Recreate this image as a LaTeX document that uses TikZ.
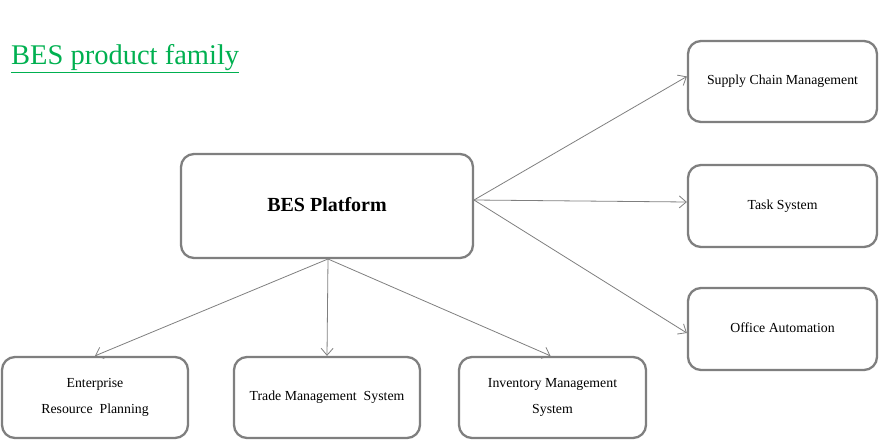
\documentclass[tikz,border=0pt]{standalone}
\usepackage{fontspec}
\setmainfont{Liberation Serif}
\usetikzlibrary{arrows.meta,calc}
\definecolor{boxgray}{HTML}{7F7F7F}
\definecolor{titlegreen}{HTML}{00B050}
\begin{document}
\begin{tikzpicture}[x=1pt,y=-1pt,
  box/.style={draw=boxgray,line width=2.3pt,rounded corners=13pt,fill=white,
    align=center,inner sep=0pt,font=\fontsize{13.8}{26}\selectfont},
  conn/.style={draw=boxgray,line width=0.8pt,
    -{Straight Barb[length=7pt,width=12pt,line width=0.8pt]}}]
\useasboundingbox (0,0) rectangle (883,444);
\node[anchor=base west,text=titlegreen,inner sep=0pt,font=\fontsize{28.5}{30}\selectfont] (title) at (11,65) {\underline{BES product family}};
\node[box,minimum width=292pt,minimum height=104pt,font=\fontsize{20}{24}\selectfont\bfseries] (bes) at (327,206) {\raisebox{3pt}{BES Platform}};
\node[box,minimum width=189pt,minimum height=81pt] (scm) at (782.5,81.5) {\raisebox{3.5pt}{Supply Chain\ Management}};
\node[box,minimum width=189pt,minimum height=82pt] (task) at (782.5,206) {\raisebox{3.5pt}{Task System}};
\node[box,minimum width=189pt,minimum height=82pt] (oa) at (782.5,329) {\raisebox{3.5pt}{Office Automation}};
\node[box,minimum width=186pt,minimum height=81pt] (erp) at (95,397.5) {Enterprise\\Resource\ \ Planning};
\node[box,minimum width=186pt,minimum height=81pt] (tms) at (327,397.5) {Trade Management\ \ System};
\node[box,minimum width=187pt,minimum height=81pt] (ims) at (552.5,397.5) {Inventory Management\\System};
\coordinate (r) at (474,200);
\coordinate (b) at (328,259);
\draw[conn] (b) -- (erp.north);
\draw[conn] (b) -- (tms.north);
\draw[conn] (b) -- ([xshift=-2pt]ims.north);
\draw[conn] (r) -- ([yshift=5pt]scm.west);
\draw[conn] (r) -- ([yshift=4pt]task.west);
\draw[conn] (r) -- ([yshift=-4pt]oa.west);
\end{tikzpicture}
\end{document}
